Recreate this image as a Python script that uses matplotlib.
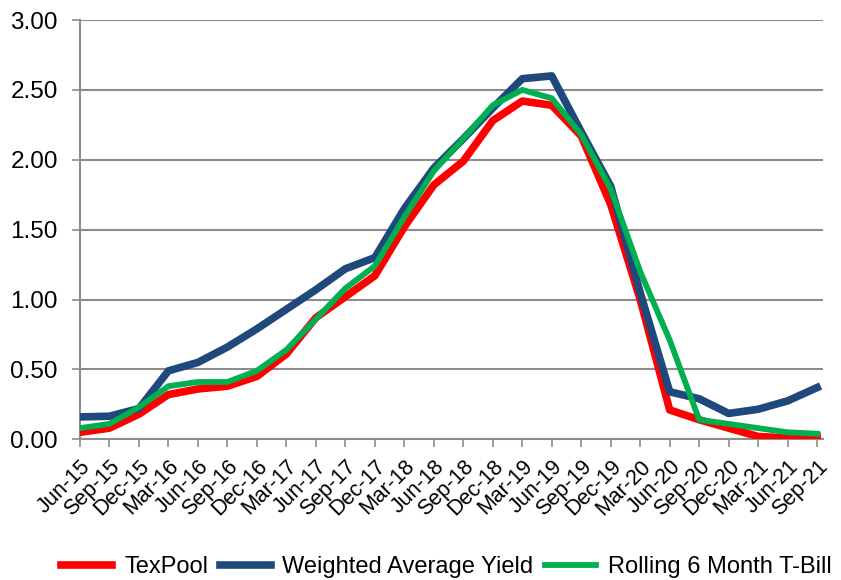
import matplotlib.pyplot as plt

plt.rcParams['font.family'] = ['Liberation Sans', 'DejaVu Sans']

quarters = ['Jun-15', 'Sep-15', 'Dec-15', 'Mar-16', 'Jun-16', 'Sep-16', 'Dec-16',
            'Mar-17', 'Jun-17', 'Sep-17', 'Dec-17', 'Mar-18', 'Jun-18', 'Sep-18',
            'Dec-18', 'Mar-19', 'Jun-19', 'Sep-19', 'Dec-19', 'Mar-20', 'Jun-20',
            'Sep-20', 'Dec-20', 'Mar-21', 'Jun-21', 'Sep-21']

texpool = [0.05, 0.08, 0.18, 0.32, 0.36, 0.38, 0.45, 0.61, 0.87, 1.02, 1.17,
           1.52, 1.82, 1.99, 2.28, 2.42, 2.39, 2.17, 1.68, 1.00, 0.21, 0.14,
           0.08, 0.02, 0.01, 0.02]
weighted_avg = [0.16, 0.165, 0.22, 0.49, 0.55, 0.66, 0.79, 0.93, 1.07, 1.22, 1.30,
                1.65, 1.94, 2.15, 2.37, 2.58, 2.60, 2.20, 1.81, 1.05, 0.34, 0.29,
                0.185, 0.215, 0.275, 0.37]
tbill = [0.08, 0.11, 0.23, 0.38, 0.41, 0.41, 0.49, 0.64, 0.86, 1.08, 1.24,
         1.59, 1.92, 2.15, 2.39, 2.50, 2.44, 2.18, 1.79, 1.20, 0.71, 0.14,
         0.11, 0.08, 0.05, 0.04]

x = range(len(quarters))

fig = plt.figure(figsize=(8.41, 5.8), dpi=100)
ax = fig.add_axes([0.0951, 0.2426, 0.8835, 0.7229])

ax.plot(x, texpool, color='#FF0000', linewidth=5.5, label='TexPool', zorder=3)
ax.plot(x, weighted_avg, color='#1F497D', linewidth=5.5, label='Weighted Average Yield', zorder=4)
ax.plot(x, tbill, color='#00B050', linewidth=4.2, label='Rolling 6 Month T-Bill', zorder=5)

ax.set_ylim(0, 3.0)
ax.set_xlim(0, 25.2)
ax.set_yticks([0, 0.5, 1.0, 1.5, 2.0, 2.5, 3.0])
ax.set_yticklabels(['%.2f' % v for v in ax.get_yticks()], fontsize=17.5)
ax.set_xticks(list(x))
ax.set_xticklabels(quarters, rotation=45, ha='right', va='top',
                   rotation_mode='anchor', fontsize=15.5)

ax.grid(axis='y', color='#8C8C8C', linewidth=1.5, zorder=1)
ax.set_axisbelow(True)
for side in ['top', 'right']:
    ax.spines[side].set_visible(False)
for side in ['left', 'bottom']:
    ax.spines[side].set_color('#8C8C8C')
    ax.spines[side].set_linewidth(1.5)
ax.tick_params(axis='y', color='#8C8C8C', width=1.2, length=6, pad=10)
ax.tick_params(axis='x', color='#8C8C8C', width=1.2, length=6, pad=6)

fig.legend(loc='center', bbox_to_anchor=(0.531, 0.022), ncol=3, frameon=False,
           fontsize=17, handlelength=2.15, handletextpad=0.5, columnspacing=0.5)

plt.savefig('out.png', dpi=100)
